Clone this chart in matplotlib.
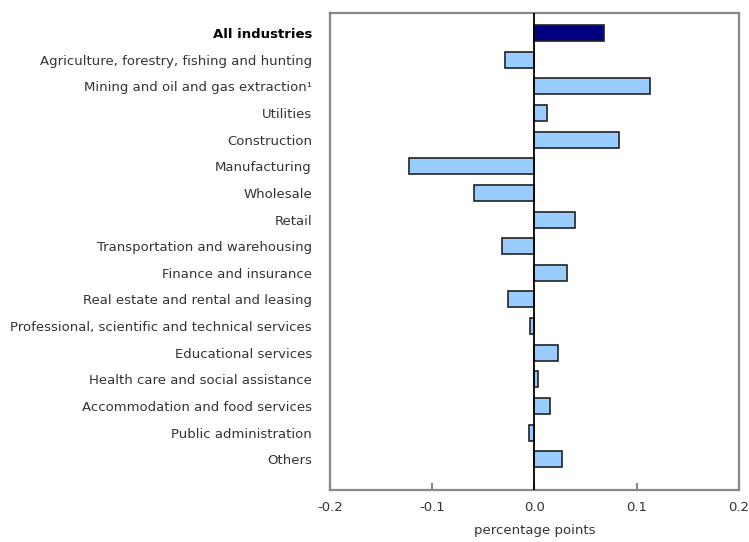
import numpy as np
import matplotlib.pyplot as plt

# Industrias y contribución (puntos porcentuales)
industries = [
    "All industries",
    "Agriculture, forestry, fishing and hunting",
    "Mining and oil and gas extraction\u00b9",
    "Utilities",
    "Construction",
    "Manufacturing",
    "Wholesale",
    "Retail",
    "Transportation and warehousing",
    "Finance and insurance",
    "Real estate and rental and leasing",
    "Professional, scientific and technical services",
    "Educational services",
    "Health care and social assistance",
    "Accommodation and food services",
    "Public administration",
    "Others",
]
values = [0.068, -0.029, 0.113, 0.012, 0.083, -0.123, -0.059, 0.040, -0.032,
          0.032, -0.026, -0.004, 0.023, 0.003, 0.015, -0.005, 0.027]
x_ticks = [-0.2, -0.1, 0.0, 0.1, 0.2]
x_tick_labels = ["-0.2", "-0.1", "0.0", "0.1", "0.2"]

fig = plt.figure(figsize=(7.49, 5.42), dpi=100)
ax = fig.add_axes([0.4406, 0.0959, 0.5460, 0.8801])

y = np.arange(len(industries))
colors = ["#000080"] + ["#99CCFF"] * (len(industries) - 1)
ax.barh(y, values, height=0.6, color=colors, edgecolor="#222222", linewidth=1.2, zorder=2)

# Línea del cero
ax.axvline(0, color="black", linewidth=1.3, zorder=3)

ax.set_xlim(-0.2, 0.2)
ax.set_ylim(len(industries) - 1 + 1.16, -0.76)

ax.set_xticks(x_ticks)
ax.set_xticklabels(x_tick_labels, fontsize=9.5, color="#333333")
ax.set_yticks(y)
ax.set_yticklabels(industries, fontsize=9.5, color="#333333")
ax.get_yticklabels()[0].set_fontweight("bold")
ax.get_yticklabels()[0].set_color("black")

ax.tick_params(axis="y", length=0, pad=13)
ax.tick_params(axis="x", direction="in", length=5, width=1.5, color="#888888", pad=8)

for s in ax.spines.values():
    s.set_color("#888888")
    s.set_linewidth(1.6)

ax.set_xlabel("percentage points", fontsize=9.5, color="#333333", labelpad=7)

fig.savefig("out.png", dpi=100)
